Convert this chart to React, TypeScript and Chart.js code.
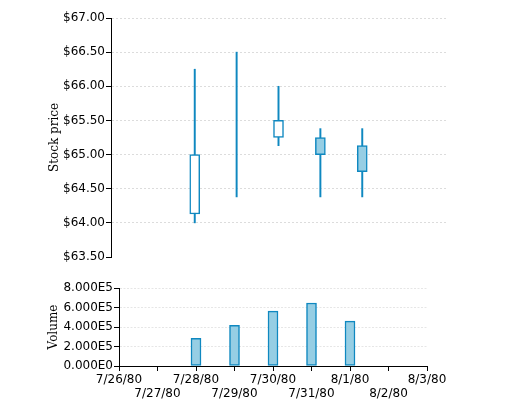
import { useEffect, useRef } from 'react';
import { Chart, registerables } from 'chart.js';

Chart.register(...registerables);

const DAYS = ['7/26/80', '7/27/80', '7/28/80', '7/29/80', '7/30/80', '7/31/80', '8/1/80', '8/2/80', '8/3/80'];
const TRADE_DAYS = ['7/28/80', '7/29/80', '7/30/80', '7/31/80', '8/1/80'];
const OPEN = [64.13, null, 65.25, 65.25, 65.13];
const CLOSE = [65.0, null, 65.5, 65.0, 64.75];
const HIGH = [66.25, 66.5, 66.0, 65.38, 65.38];
const LOW = [64.0, 64.38, 65.13, 64.38, 64.38];
const VOLUME = [284000, 418000, 563000, 646000, 460000];
const PRICE_TICKS = [63.5, 64, 64.5, 65, 65.5, 66, 66.5, 67];
const VOLUME_TICKS = [0, 200000, 400000, 600000, 800000];

const C = {
  stroke: '#0f88c0',
  fill: '#96cee4',
  grid: '#dcdcdc',
  gridLight: '#e6e6e6',
  text: '#000'
};

const tickFont = { family: 'DejaVu Sans', size: 12 };
const titleFont = { family: 'DejaVu Serif', size: 12 };

const dayIndex = (d: string) => DAYS.indexOf(d);

export default function App() {
  const priceRef = useRef<HTMLCanvasElement | null>(null);
  const volumeRef = useRef<HTMLCanvasElement | null>(null);

  useEffect(() => {
    let priceChart: Chart | null = null;
    let volumeChart: Chart | null = null;

    const bodies = TRADE_DAYS.map((d, i) => ({ x: dayIndex(d), y: [OPEN[i], CLOSE[i]] })).filter(
      (p) => p.y[0] !== null && p.y[1] !== null
    );
    const wicks = TRADE_DAYS.map((d, i) => ({ x: dayIndex(d), y: [LOW[i], HIGH[i]] }));

    if (priceRef.current) {
      priceChart = new Chart(priceRef.current, {
        type: 'bar',
        data: {
          datasets: [
            {
              label: 'body',
              data: bodies as any,
              grouped: false,
              barThickness: 10,
              borderWidth: 1.5,
              borderColor: C.stroke,
              borderSkipped: false,
              backgroundColor: (ctx: any) => {
                const r = ctx.raw;
                return r && r.y[1] > r.y[0] ? '#fff' : C.fill;
              }
            },
            {
              label: 'wick',
              data: wicks as any,
              grouped: false,
              barThickness: 1.3,
              borderWidth: 0,
              backgroundColor: C.stroke
            }
          ]
        },
        options: {
          animation: false,
          responsive: true,
          maintainAspectRatio: false,
          layout: { padding: { left: 44, top: 18, right: 66, bottom: 11 } },
          plugins: { legend: { display: false }, tooltip: { enabled: false } },
          scales: {
            x: {
              type: 'linear',
              display: false,
              min: 0,
              max: DAYS.length - 1,
              offset: false
            },
            y: {
              min: 63.5,
              max: 67,
              afterBuildTicks: (s: any) => {
                s.ticks = PRICE_TICKS.map((value) => ({ value }));
              },
              afterFit: (s: any) => {
                s.width = 67;
              },
              ticks: {
                padding: 1,
                color: C.text,
                font: tickFont,
                callback: (v) => '$' + Number(v).toFixed(2)
              },
              grid: {
                color: (ctx: any) => (ctx.tick && ctx.tick.value === 63.5 ? 'rgba(0,0,0,0)' : C.grid),
                tickColor: C.text,
                tickLength: 5,
                tickWidth: 1,
                lineWidth: 1
              },
              border: { display: true, color: C.text, width: 1, dash: [2, 2] },
              title: {
                display: true,
                text: 'Stock price',
                color: C.text,
                font: titleFont,
                padding: { top: 4, bottom: 0 }
              }
            }
          }
        }
      });
    }

    if (volumeRef.current) {
      volumeChart = new Chart(volumeRef.current, {
        type: 'bar',
        data: {
          datasets: [
            {
              label: 'Volume',
              data: TRADE_DAYS.map((d, i) => ({ x: dayIndex(d), y: VOLUME[i] })) as any,
              barThickness: 10,
              borderWidth: 1.5,
              borderColor: C.stroke,
              borderSkipped: false,
              backgroundColor: C.fill
            }
          ]
        },
        options: {
          animation: false,
          responsive: true,
          maintainAspectRatio: false,
          layout: { padding: { left: 43, top: 20, right: 85, bottom: 0 } },
          plugins: { legend: { display: false }, tooltip: { enabled: false } },
          scales: {
            x: {
              type: 'linear',
              min: 0,
              max: DAYS.length - 1,
              offset: false,
              afterBuildTicks: (s: any) => {
                s.ticks = DAYS.map((_, i) => ({ value: i }));
              },
              afterFit: (s: any) => {
                s.height = 34;
              },
              ticks: {
                autoSkip: false,
                maxRotation: 0,
                padding: 2,
                color: C.text,
                font: { ...tickFont, lineHeight: 1.15 },
                callback: (v) => {
                  const i = Math.round(Number(v));
                  return i % 2 ? ['', DAYS[i]] : DAYS[i];
                }
              },
              grid: { drawOnChartArea: false, offset: false, tickColor: C.text, tickLength: 5, tickWidth: 1 },
              border: { display: true, color: C.text, width: 1 }
            },
            y: {
              min: 0,
              max: 800000,
              afterBuildTicks: (s: any) => {
                s.ticks = VOLUME_TICKS.map((value) => ({ value }));
              },
              afterFit: (s: any) => {
                s.width = 76;
              },
              ticks: {
                padding: 1,
                color: C.text,
                font: tickFont,
                callback: (v) => Number(v).toExponential(3).replace('e+', 'E').replace('e-', 'E-')
              },
              grid: {
                color: (ctx: any) => (ctx.tick && ctx.tick.value === 0 ? 'rgba(0,0,0,0)' : C.gridLight),
                tickColor: C.text,
                tickLength: 5,
                tickWidth: 1,
                lineWidth: 1
              },
              border: { display: true, color: C.text, width: 1, dash: [2, 1.5] },
              title: {
                display: true,
                text: 'Volume',
                color: C.text,
                font: titleFont,
                padding: { top: 4, bottom: 0 }
              }
            }
          }
        }
      });
    }

    return () => {
      if (priceChart) priceChart.destroy();
      if (volumeChart) volumeChart.destroy();
    };
  }, []);

  return (
    <div style={{ position: 'absolute', left: 0, top: 0, width: 512, height: 400, background: '#fff' }}>
      <div style={{ position: 'absolute', left: 0, top: 0, width: 512, height: 268 }}>
        <canvas ref={priceRef}></canvas>
      </div>
      <div style={{ position: 'absolute', left: 0, top: 268, width: 512, height: 132 }}>
        <canvas ref={volumeRef}></canvas>
      </div>
    </div>
  );
}
